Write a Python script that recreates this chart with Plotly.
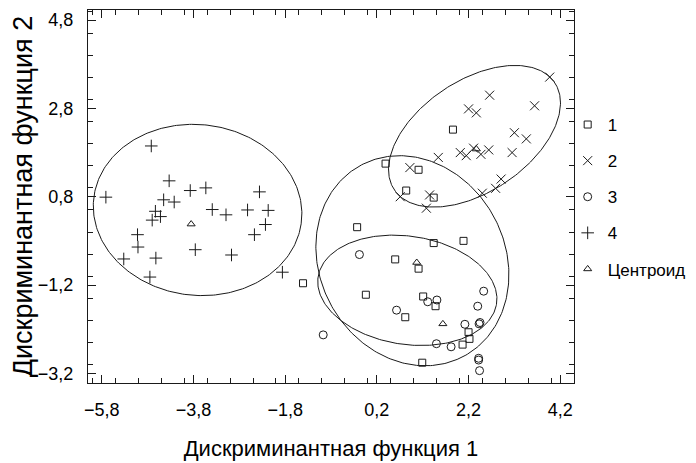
import numpy as np
import plotly.graph_objects as go

# ---- data ----
g1_x = [1.86, 0.39, 1.11, 0.84, 1.44, -0.23, 1.44, 2.09, 0.60, 1.11, -1.41, -0.04, 1.21, 1.48, 0.82, 2.20, 2.22, 2.07, 1.19]
g1_y = [2.32, 1.55, 1.41, 0.94, 0.78, 0.11, -0.25, -0.20, -0.62, -0.83, -1.16, -1.42, -1.46, -1.68, -1.93, -2.27, -2.42, -2.55, -2.96]

g2_x = [3.97, 2.66, 3.64, 2.20, 2.37, 3.20, 3.46, 2.02, 2.15, 2.31, 2.47, 2.64, 3.15, 1.54, 0.92, 2.91, 2.79, 0.71, 1.35, 1.28, 2.50]
g2_y = [3.51, 3.10, 2.86, 2.79, 2.70, 2.25, 2.11, 1.80, 1.73, 1.90, 1.76, 1.86, 1.80, 1.69, 1.46, 1.20, 0.99, 0.80, 0.84, 0.54, 0.88]

g3_x = [-0.18, 2.53, 1.31, 1.51, 2.40, 0.63, 2.43, 2.12, 1.50, 1.82, -0.97, 2.42, 2.44, 2.45, 2.42]
g3_y = [-0.51, -1.34, -1.58, -1.54, -1.68, -1.77, -2.08, -2.09, -2.53, -2.60, -2.33, -2.86, -3.14, -2.05, -2.90]

g4_x = [-4.72, -4.33, -5.71, -4.45, -4.22, -3.87, -3.53, -2.36, -4.63, -4.52, -4.70, -3.39, -3.09, -2.62, -2.17, -2.23, -2.47, -5.02, -5.01, -5.32, -4.62, -3.76, -2.97, -4.75, -1.86]
g4_y = [1.95, 1.16, 0.79, 0.73, 0.68, 0.94, 1.00, 0.91, 0.47, 0.35, 0.27, 0.51, 0.39, 0.50, 0.49, 0.17, -0.06, -0.06, -0.34, -0.61, -0.59, -0.40, -0.52, -1.02, -0.91]

cent_x = [1.07, 2.37, 1.64, -3.85]
cent_y = [-0.69, 1.88, -2.08, 0.18]

# ellipse parameters: centre x, centre y, semi-axis a, semi-axis b, rotation (deg)
ell_cx = [0.975, 2.33, 0.865, -3.71]
ell_cy = [-0.65, 2.17, -1.32, 0.50]
ell_a = [2.44, 2.13, 1.97, 2.281]
ell_b = [2.035, 1.247, 1.225, 1.933]
ell_ang = [-66.4, 35.8, -9.3, -7.9]

series_names = ["1", "2", "3", "4"]
x_ticks = [-5.8, -3.8, -1.8, 0.2, 2.2, 4.2]
y_ticks = [-3.2, -1.2, 0.8, 2.8, 4.8]

INK = "#1a1a1a"
FONT = "Liberation Sans, Arial, sans-serif"

fig = go.Figure()

# ellipses
t = np.linspace(0, 2 * np.pi, 300)
for cx, cy, a, b, ang in zip(ell_cx, ell_cy, ell_a, ell_b, ell_ang):
    th = np.deg2rad(ang)
    ex = cx + a * np.cos(th) * np.cos(t) - b * np.sin(th) * np.sin(t)
    ey = cy + a * np.sin(th) * np.cos(t) + b * np.cos(th) * np.sin(t)
    fig.add_trace(go.Scatter(x=ex, y=ey, mode="lines", line=dict(color=INK, width=1),
                             showlegend=False, hoverinfo="skip"))

groups = [(g1_x, g1_y, "square-open", 7), (g2_x, g2_y, "x-thin-open", 9),
          (g3_x, g3_y, "circle-open", 8), (g4_x, g4_y, "cross-thin-open", 9)]
for (gx, gy, sym, sz), nm in zip(groups, series_names):
    fig.add_trace(go.Scatter(x=gx, y=gy, mode="markers", name=nm, legendgroup=nm,
                             marker=dict(symbol=sym, size=sz, color=INK,
                                         line=dict(width=1, color=INK))))

fig.add_trace(go.Scatter(x=cent_x, y=cent_y, mode="markers", name="Центроид", legendgroup="c",
                         marker=dict(symbol="triangle-up-open", size=7, color=INK,
                                     line=dict(width=1, color=INK))))

axis_common = dict(
    showline=True, linecolor=INK, linewidth=1, mirror="allticks",
    ticks="inside", ticklen=8, tickcolor=INK, tickwidth=1,
    showgrid=False, zeroline=False, tickformat=".1f",
    tickfont=dict(family=FONT, size=18, color="black"),
    minor=dict(ticks="inside", ticklen=5, tickcolor=INK, dtick=0.5, showgrid=False),
    ticklabelstandoff=10, automargin=False,
)

# the page adds an 8px body margin, so the figure is 8px smaller than the window
fig.update_layout(
    width=688, height=455,
    margin=dict(l=80, r=122, t=2, b=80, autoexpand=False),
    plot_bgcolor="white", paper_bgcolor="white",
    separators=", ",
    font=dict(family=FONT, color="black"),
    xaxis=dict(range=[-6.1, 4.5], tickvals=x_ticks, **axis_common,
               title=dict(text="Дискриминантная функция 1", font=dict(size=22, family=FONT), standoff=22)),
    yaxis=dict(range=[-3.42, 5.03], tickvals=y_ticks, **axis_common,
               title=dict(text="Дискриминантная функция 2", font=dict(size=27, family=FONT), standoff=7)),
    legend=dict(x=0.987, y=0.74, xanchor="left", yanchor="top", font=dict(size=17, family=FONT),
                bgcolor="rgba(0,0,0,0)", tracegroupgap=11, itemwidth=30),
)

fig.write_html("out.html")
